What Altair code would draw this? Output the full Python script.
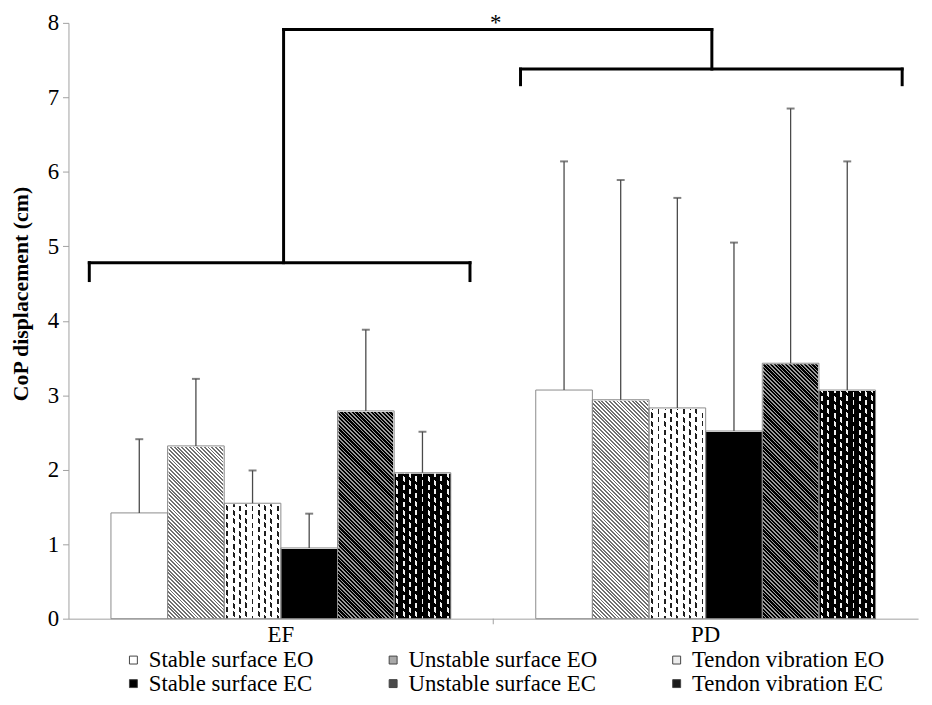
import math
import altair as alt
import pandas as pd

# ---------------- data ----------------
groups = ["EF", "PD"]
conditions = [
    "Stable surface EO", "Unstable surface EO", "Tendon vibration EO",
    "Stable surface EC", "Unstable surface EC", "Tendon vibration EC",
]
ef_mean = [1.42, 2.32, 1.55, 0.95, 2.79, 1.96]
ef_sd = [0.99, 0.90, 0.44, 0.46, 1.09, 0.55]
pd_mean = [3.07, 2.94, 2.83, 2.52, 3.43, 3.07]
pd_sd = [3.07, 2.95, 2.82, 2.53, 3.42, 3.07]
y_ticks = [0, 1, 2, 3, 4, 5, 6, 7, 8]

# legend entry order (laid out column by column, 2 rows)
legend_order = [
    "Stable surface EO", "Stable surface EC",
    "Unstable surface EO", "Unstable surface EC",
    "Tendon vibration EO", "Tendon vibration EC",
]
legend_fill = ["#ffffff", "#000000", "#a8a8a8", "#4a4a4a", "#ececec", "#1a1a1a"]

# significance bracket segments (x as fraction of plot width, y in cm)
seg_x = [0.0245, 0.0245, 0.4726, 0.2532, 0.2532, 0.7573, 0.5321, 0.5321, 0.9813]
seg_x2 = [0.4726, 0.0245, 0.4726, 0.2532, 0.7573, 0.7573, 0.9813, 0.5321, 0.9813]
seg_y = [4.78, 4.78, 4.78, 4.78, 7.91, 7.91, 7.38, 7.38, 7.38]
seg_y2 = [4.78, 4.54, 4.54, 7.91, 7.91, 7.38, 7.38, 7.17, 7.17]
star_x = [0.503]
star_y = [8.0]
star_text = ["*"]
# category-axis tick mark between the groups
axtick_x = [0.5]
axtick_y = [0.0]
axtick_y2 = [-0.075]

rows = []
for g, means, sds in [("EF", ef_mean, ef_sd), ("PD", pd_mean, pd_sd)]:
    for c, m, s in zip(conditions, means, sds):
        rows.append({"group": g, "cond": c, "mean": m, "sd": s})
df = pd.DataFrame(rows)
br_df = pd.DataFrame({"x": seg_x, "x2": seg_x2, "y": seg_y, "y2": seg_y2})
star_df = pd.DataFrame({"x": star_x, "y": star_y, "t": star_text})
tick_df = pd.DataFrame({"x": axtick_x, "y": axtick_y, "y2": axtick_y2})

# ---------------- layout / style ----------------
W, H = 857, 601
FONT = "Liberation Serif"
FS = 23
LFS = 23
bar_w = (W / 2) * 0.8 / 6


def stops_cycle(n, parts):
    """parts: list of (fraction, color) covering one period."""
    out = []
    for k in range(n):
        acc = 0.0
        for frac, col in parts:
            o0 = (k + acc) / n
            acc += frac
            o1 = (k + acc) / n
            out.append({"offset": round(o0, 6), "color": col})
            out.append({"offset": round(o1, 6), "color": col})
    return out


def diag_gradient(bg, fg, fg_frac, period_h=3.8):
    r = H / bar_w
    s = (1 + r) / (1 + r * r)
    extent = (bar_w + H) / math.sqrt(2)
    n = int(round(extent / (period_h / math.sqrt(2))))
    return {
        "gradient": "linear",
        "x1": 0, "y1": 1, "x2": round(s, 6), "y2": round(1 - s * r, 6),
        "stops": stops_cycle(n, [(fg_frac, fg), (1 - fg_frac, bg)]),
    }


def vstripe_gradient(bg, fg, n=9, fg_frac=0.3):
    side = (1 - fg_frac) / 2
    return {
        "gradient": "linear", "x1": 0, "y1": 0, "x2": 1, "y2": 0,
        "stops": stops_cycle(n, [(side, bg), (fg_frac, fg), (side, bg)]),
    }


def gap_gradient(bg, gap_frac=0.4, period=8.5):
    col_step = bar_w / 9
    m = (period / 2) / col_step
    a = -m * bar_w / H
    s = (1 - a) / (1 + a * a)
    n = int(round((H + m * bar_w) / period))
    clear = "rgba(255,255,255,0)"
    return {
        "gradient": "linear",
        "x1": 1, "y1": 0, "x2": round(1 + s * a, 6), "y2": round(s, 6),
        "stops": stops_cycle(n, [(gap_frac, bg), (1 - gap_frac, clear)]),
    }


pattern_fill = {
    "Unstable surface EO": diag_gradient("#ffffff", "#707070", 0.5),
    "Unstable surface EC": diag_gradient("#000000", "#9a9a9a", 0.42),
    "Tendon vibration EO": vstripe_gradient("#ffffff", "#1e1e1e"),
    "Tendon vibration EC": vstripe_gradient("#000000", "#f0f0f0"),
}
gap_fill = {
    "Tendon vibration EO": gap_gradient("#ffffff"),
    "Tendon vibration EC": gap_gradient("#000000"),
}

y_axis = alt.Axis(values=y_ticks, title="CoP displacement (cm)", grid=False,
                  domainColor="#a0a0a0", tickColor="#a0a0a0", tickSize=6,
                  labelFont=FONT, labelFontSize=FS, labelColor="black", labelPadding=4,
                  titleFont=FONT, titleFontSize=22, titleFontWeight="bold",
                  titleColor="black", titlePadding=15, titleY=273)
y_scale = alt.Scale(domain=[0, 8], nice=False, zero=True)

base = alt.Chart(df).transform_calculate(
    top="datum.mean + datum.sd", ymax="8", ymin="0"
).encode(
    x=alt.X("group:N", scale=alt.Scale(domain=groups, paddingInner=0.2, paddingOuter=0.1),
            axis=alt.Axis(title=None, labelAngle=0, ticks=False, grid=False,
                          domainColor="#a0a0a0",
                          labelFont=FONT, labelFontSize=FS, labelColor="black",
                          labelPadding=5)),
    xOffset=alt.XOffset("cond:N", scale=alt.Scale(domain=conditions, paddingInner=0, paddingOuter=0)),
)

bars = base.mark_bar().encode(
    y=alt.Y("mean:Q", scale=y_scale, axis=y_axis),
    fill=alt.Fill("cond:N", scale=alt.Scale(domain=legend_order, range=legend_fill),
                  legend=alt.Legend(title=None, orient="none", legendX=54, legendY=631,
                                    columns=3, columnPadding=68, rowPadding=0,
                                    symbolType="square", symbolSize=64,
                                    symbolStrokeColor="#444", symbolStrokeWidth=1,
                                    labelFont=FONT, labelFontSize=LFS, labelColor="black",
                                    labelOffset=4, padding=0, labelLimit=400)),
)

band_layers = [bars]
for c, grad in pattern_fill.items():
    band_layers.append(
        base.transform_filter(alt.datum.cond == c).mark_bar().encode(
            y=alt.Y("ymax:Q", scale=y_scale, axis=y_axis), y2="ymin:Q",
            fill=alt.value(grad),
        )
    )
for c, grad in gap_fill.items():
    band_layers.append(
        base.transform_filter(alt.datum.cond == c).mark_bar().encode(
            y=alt.Y("ymax:Q", scale=y_scale, axis=y_axis), y2="ymin:Q",
            fill=alt.value(grad),
        )
    )
cover = base.mark_bar(fill="white", stroke="white", strokeWidth=2).encode(
    y=alt.Y("ymax:Q", scale=y_scale, axis=y_axis), y2="mean:Q")
outline = base.mark_bar(fillOpacity=0, stroke="#8c8c8c", strokeWidth=1).encode(
    y=alt.Y("mean:Q", scale=y_scale, axis=y_axis))
err = base.mark_rule(color="#4a4a4a", strokeWidth=1.3).encode(
    y=alt.Y("mean:Q", scale=y_scale, axis=y_axis), y2="top:Q")
cap = base.mark_tick(color="#4a4a4a", size=8, thickness=2).encode(
    y=alt.Y("top:Q", scale=y_scale, axis=y_axis))
band_layers += [cover, outline, err, cap]

fx = alt.Scale(domain=[0, 1], nice=False, zero=False)
brackets = alt.Chart(br_df).mark_rule(color="black", strokeWidth=3, strokeCap="square").encode(
    x=alt.X("x:Q", scale=fx, axis=None), x2="x2:Q",
    y=alt.Y("y:Q", scale=y_scale, axis=y_axis), y2="y2:Q",
)
star = alt.Chart(star_df).mark_text(font=FONT, fontSize=FS, color="black", baseline="middle").encode(
    x=alt.X("x:Q", scale=fx, axis=None),
    y=alt.Y("y:Q", scale=y_scale, axis=y_axis),
    text="t:N",
)
axticks = alt.Chart(tick_df).mark_rule(color="#a0a0a0", strokeWidth=1).encode(
    x=alt.X("x:Q", scale=fx, axis=None),
    y=alt.Y("y:Q", scale=y_scale, axis=y_axis), y2="y2:Q",
)

chart = alt.layer(
    alt.layer(*band_layers),
    alt.layer(brackets, star, axticks),
).resolve_scale(x="independent").properties(
    width=W, height=H,
    autosize=alt.AutoSizeParams(type="none"),
    padding={"left": 61, "top": 12, "right": 6, "bottom": 76},
    background="white",
).configure_view(stroke=None)

chart.save("out.html", embed_options={"renderer": "svg", "actions": False})
